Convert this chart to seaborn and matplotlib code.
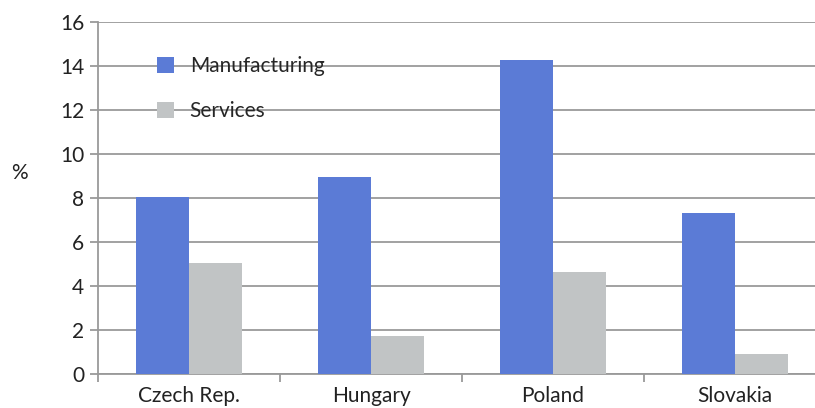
import matplotlib
matplotlib.use("Agg")
import matplotlib.pyplot as plt
import seaborn as sns
import pandas as pd
from matplotlib.ticker import FixedLocator

countries = ["Czech Rep.", "Hungary", "Poland", "Slovakia"]
manufacturing = [8.05, 8.97, 14.27, 7.32]
services = [5.06, 1.74, 4.65, 0.92]
series_names = ["Manufacturing", "Services"]
yticks = [0, 2, 4, 6, 8, 10, 12, 14, 16]

df = pd.DataFrame({
    "country": countries * 2,
    "value": manufacturing + services,
    "sector": [series_names[0]] * len(countries) + [series_names[1]] * len(countries),
})

sns.set_theme(style="white")
plt.rcParams["font.family"] = ["Lato", "DejaVu Sans"]

fig = plt.figure(figsize=(8.15, 4.08), dpi=100)
ax = fig.add_axes([98 / 815, 34 / 408, 728 / 815, 352 / 408])

palette = {"Manufacturing": "#5b7bd6", "Services": "#c1c4c5"}
sns.barplot(data=df, x="country", y="value", hue="sector", palette=palette,
            width=0.58, saturation=1, ax=ax, zorder=3, legend=True,
            edgecolor="none", linewidth=0)

ax.set_xlim(-0.5, 3.5)
ax.set_ylim(0, 16)
ax.set_yticks(yticks)
ax.yaxis.grid(True, color="#9a9a9a", linewidth=1.3, zorder=0)
ax.set_axisbelow(True)

for side in ["top", "right"]:
    ax.spines[side].set_visible(False)
for side in ["left", "bottom"]:
    ax.spines[side].set_color("#9a9a9a")
    ax.spines[side].set_linewidth(1.3)

ax.tick_params(axis="y", left=True, length=6, width=1.3, color="#9a9a9a",
               labelsize=15, labelcolor="#222222", pad=4)
ax.tick_params(axis="x", which="major", bottom=False, labelsize=15,
               labelcolor="#222222", pad=3)
ax.xaxis.set_minor_locator(FixedLocator([-0.5, 0.5, 1.5, 2.5, 3.5]))
ax.tick_params(axis="x", which="minor", bottom=True, length=6, width=1.3,
               color="#9a9a9a")

ax.set_xlabel("")
ax.set_ylabel("%", rotation=0, fontsize=15, color="#222222", labelpad=0,
              va="center", ha="center")
ax.yaxis.set_label_coords(-98 / 728 + 19 / 728, 0.57)

ax.legend(frameon=False, loc="upper left", bbox_to_anchor=(59 / 728, 1 - 34 / 352),
          fontsize=15, handlelength=0.82, handleheight=0.82, handletextpad=0.75,
          labelspacing=1.2, borderpad=0, borderaxespad=0)

fig.savefig("out.png", dpi=100)
